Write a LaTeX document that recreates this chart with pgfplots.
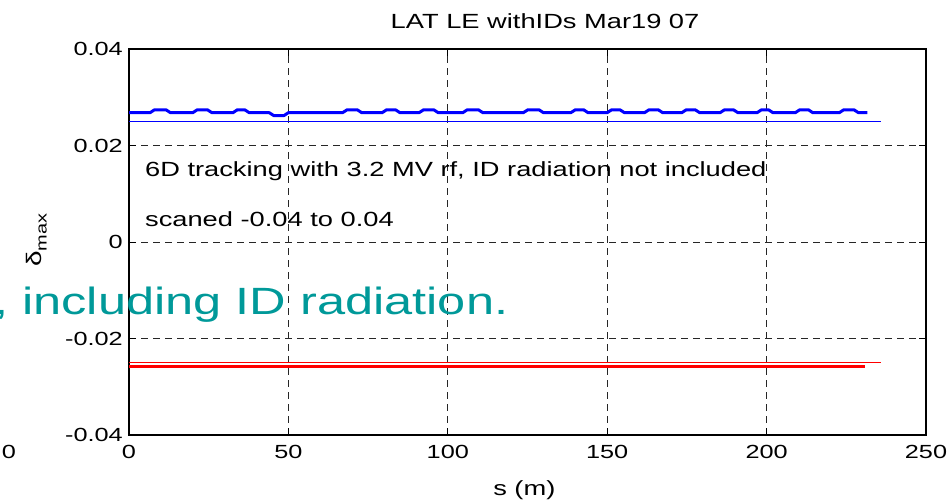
\documentclass[border=0pt]{standalone}
\usepackage{fontspec}
\setmainfont[FakeStretch=1.33]{Liberation Sans}
\usepackage{pgfplots}
\pgfplotsset{compat=1.18}
\definecolor{tealtxt}{RGB}{0,153,153}
\begin{document}
\begin{tikzpicture}[x=1pt,y=1pt]
\useasboundingbox (0,0) rectangle (949,500);
\clip (0,0) rectangle (949,500);
\begin{axis}[
  at={(129pt,65pt)}, anchor=south west,
  scale only axis, width=797pt, height=386pt,
  xmin=0, xmax=250, ymin=-0.04, ymax=0.04,
  scaled y ticks=false, scaled x ticks=false,
  xtick={0,50,100,150,200,250},
  xticklabels={0,50,100,150,200,250},
  ytick={-0.04,-0.02,0,0.02,0.04},
  yticklabels={-0.04,-0.02,0,0.02,0.04},
  tick align=inside, major tick length=7pt,
  tick style={black, line width=0.8pt},
  axis line style={black, line width=1.2pt},
  grid=major,
  major grid style={black!85, line width=0.8pt, dash pattern=on 7pt off 5pt},
  ticklabel style={font=\fontsize{19}{22}\selectfont},
  yticklabel style={anchor=east, inner sep=0pt, xshift=-6pt},
  xticklabel style={anchor=north, inner sep=0pt, yshift=-10pt},
  title={LAT LE withIDs Mar19 07},
  title style={font=\fontsize{20.5}{24}\selectfont, at={(axis description cs:0.522,1.057)}, anchor=center, inner sep=0pt},
  xlabel={s (m)},
  xlabel style={font=\fontsize{20.5}{24}\selectfont, at={(axis description cs:0.496,-0.1425)}, anchor=center, inner sep=0pt},
  ylabel={δ\raisebox{-0.45ex}{\fontsize{15}{18}\selectfont max}},
  ylabel style={font=\fontsize{21}{24}\selectfont, at={(axis description cs:-0.116,0.505)}, anchor=center, rotate=0, inner sep=0pt},
  clip=false,
]
% thick blue: positive momentum aperture
\addplot[blue, line width=3pt, line join=round] coordinates {
(0,0.0268) (6.6,0.0268) (8,0.0274) (11.6,0.0274) (13,0.0268)
(20,0.0268) (21.4,0.0274) (24.6,0.0274) (26,0.0268)
(32.6,0.0268) (34,0.0274) (36.3,0.0274) (37.7,0.0268)
(44,0.0268) (45.4,0.0262) (48.6,0.0262) (50,0.0268)
(67,0.0268) (68.4,0.0274) (71.6,0.0274) (73,0.0268)
(79.4,0.0268) (80.8,0.0274) (83.6,0.0274) (85,0.0268)
(91,0.0268) (92.4,0.0274) (95.6,0.0274) (97,0.0268)
(104.7,0.0268) (106.1,0.0274) (109.6,0.0274) (111,0.0268)
(123.7,0.0268) (125.1,0.0274) (128.6,0.0274) (130,0.0268)
(138.6,0.0268) (140,0.0274) (142.6,0.0274) (144,0.0268)
(150,0.0268) (151.4,0.0274) (154,0.0274) (155.4,0.0268)
(161.7,0.0268) (163.1,0.0274) (166,0.0274) (167.4,0.0268)
(173.4,0.0268) (174.8,0.0274) (177.6,0.0274) (179,0.0268)
(185.4,0.0268) (186.8,0.0274) (189.6,0.0274) (191,0.0268)
(197,0.0268) (198.4,0.0274) (200.6,0.0274) (202,0.0268)
(209,0.0268) (210.4,0.0274) (213.1,0.0274) (214.5,0.0268)
(222.8,0.0268) (224.2,0.0274) (227.4,0.0274) (228.8,0.0268)
(231.6,0.0268)
};
% thin blue
\addplot[color={rgb,255:red,0;green,0;blue,255}, line width=1.2pt] coordinates {(0,0.025) (236,0.025)};
% thin red
\addplot[red, line width=1.2pt] coordinates {(0,-0.025) (236,-0.025)};
% thick red
\addplot[red, line width=3pt] coordinates {(0,-0.0259) (231,-0.0259)};
\node[anchor=west, inner sep=0pt, font=\fontsize{20.5}{24}\selectfont] at (axis cs:5,0.0147) {6D tracking with 3.2 MV rf, ID radiation not included};
\node[anchor=west, inner sep=0pt, font=\fontsize{20.5}{24}\selectfont] at (axis cs:5,0.0047) {scaned -0.04 to 0.04};
\end{axis}
\node[anchor=base west, inner sep=0pt, text=tealtxt, font=\fontsize{38}{44}\selectfont] at (-6,185) {, including ID radiation.};
\node[anchor=center, inner sep=0pt, font=\fontsize{19}{22}\selectfont] at (9,48) {0};
\end{tikzpicture}
\end{document}
